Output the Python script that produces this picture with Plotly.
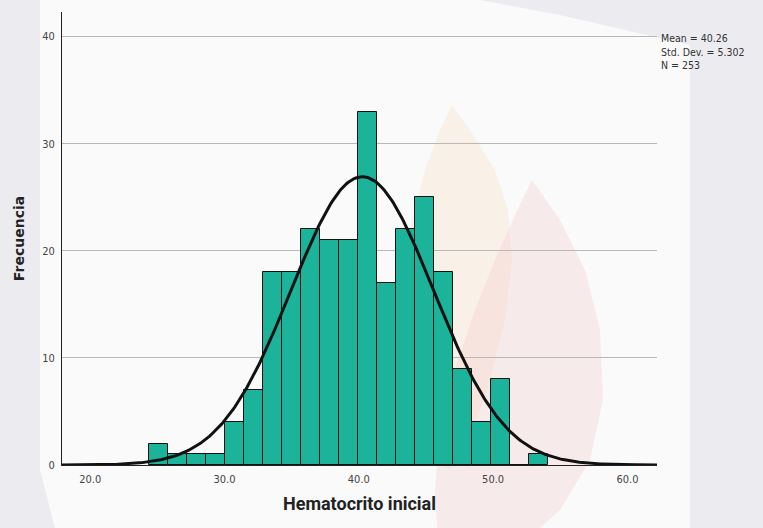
import numpy as np
import plotly.graph_objects as go

# Histogram of initial hematocrit
BIN_START = 24.4
BIN_WIDTH = 1.414
counts = [2, 1, 1, 1, 4, 7, 18, 18, 22, 21, 21, 33, 17, 22, 25, 18, 9, 4, 8, 0, 1]

MEAN = 40.26
STD_DEV = 5.302
N = 253

x_ticks = [20, 30, 40, 50, 60]
y_ticks = [0, 10, 20, 30, 40]
X_RANGE = [17.9, 62.2]
Y_RANGE = [0, 42.3]

stats_lines = [f"Mean = {MEAN:.2f}", f"Std. Dev. = {STD_DEV:.3f}", f"N = {N}"]

centers = [BIN_START + BIN_WIDTH * (i + 0.5) for i in range(len(counts))]

# Fitted normal curve scaled to counts per bin
xs = np.linspace(X_RANGE[0], X_RANGE[1], 400)
ys = N * BIN_WIDTH * np.exp(-0.5 * ((xs - MEAN) / STD_DEV) ** 2) / (STD_DEV * np.sqrt(2 * np.pi))

W, H = 763, 528
L, R, T, B = 62, 106, 12, 63
PW, PH = W - L - R, H - T - B


def px_path(points):
    """Build a closed SVG path in paper coordinates from pixel points."""
    parts = []
    for i, (px, py) in enumerate(points):
        xp = (px - L) / PW
        yp = (H - B - py) / PH
        parts.append(("M" if i == 0 else "L") + f"{xp:.4f},{yp:.4f}")
    return " ".join(parts) + " Z"


backdrop = [(40, 0), (480, 0), (560, 15), (690, 45), (690, 528), (55, 528), (40, 470)]
flame_orange = [(452, 105), (470, 130), (495, 170), (508, 210), (512, 260), (505, 320),
                (490, 380), (470, 440), (450, 470), (420, 450), (405, 400), (400, 330),
                (403, 280), (412, 220), (425, 170), (440, 130)]
flame_pink = [(532, 180), (560, 220), (585, 270), (600, 330), (603, 400), (590, 460),
              (560, 510), (540, 528), (437, 528), (435, 490), (440, 430), (455, 370),
              (475, 310), (495, 260), (515, 215)]

shapes = [
    dict(type="path", xref="paper", yref="paper", layer="below", path=px_path(backdrop),
         fillcolor="#fafafb", line_width=0),
    dict(type="path", xref="paper", yref="paper", layer="below", path=px_path(flame_orange),
         fillcolor="rgba(250,222,190,0.3)", line_width=0),
    dict(type="path", xref="paper", yref="paper", layer="below", path=px_path(flame_pink),
         fillcolor="rgba(242,200,200,0.3)", line_width=0),
]

fig = go.Figure()

fig.add_trace(go.Bar(
    x=centers, y=counts, width=BIN_WIDTH,
    marker=dict(color="#1cb39b", line=dict(color="#111111", width=1)),
    hoverinfo="x+y", showlegend=False,
))

fig.add_trace(go.Scatter(
    x=xs, y=ys, mode="lines",
    line=dict(color="#111111", width=3),
    hoverinfo="skip", showlegend=False,
))

# Summary statistics block to the right of the plot
annotations = [
    dict(xref="paper", yref="paper", x=1.0, y=(H - B - 51) / PH,
         xanchor="left", yanchor="middle", xshift=2, showarrow=False, align="left",
         text="<br>".join(stats_lines),
         font=dict(family="DejaVu Sans Condensed, Roboto, sans-serif", size=10.5, color="#333333"))
]

fig.update_layout(
    width=W, height=H,
    margin=dict(l=L, r=R, t=T, b=B),
    paper_bgcolor="#ececf0",
    plot_bgcolor="rgba(0,0,0,0)",
    font=dict(family="DejaVu Sans Condensed, Roboto, sans-serif", color="#333333"),
    bargap=0,
    shapes=shapes,
    annotations=annotations,
    xaxis=dict(
        range=X_RANGE, tickvals=x_ticks, ticktext=[f"{v:.1f}" for v in x_ticks],
        showgrid=False, zeroline=False, showline=True, linecolor="#222222", linewidth=1,
        ticks="", tickfont=dict(size=11, color="#444444"), ticklabelstandoff=4,
        title=dict(text="<b>Hematocrito inicial</b>",
                   font=dict(family="Roboto, sans-serif", size=18, color="#222222"), standoff=12),
    ),
    yaxis=dict(
        range=Y_RANGE, tickvals=y_ticks,
        showgrid=True, gridcolor="#b8b8b8", gridwidth=1,
        zeroline=False, showline=True, linecolor="#222222", linewidth=1,
        ticks="", tickfont=dict(size=11, color="#444444"), ticklabelstandoff=4,
        title=dict(text="<b>Frecuencia</b>",
                   font=dict(family="DejaVu Sans, sans-serif", size=14, color="#222222"), standoff=14),
    ),
)

fig.write_html("out.html")
